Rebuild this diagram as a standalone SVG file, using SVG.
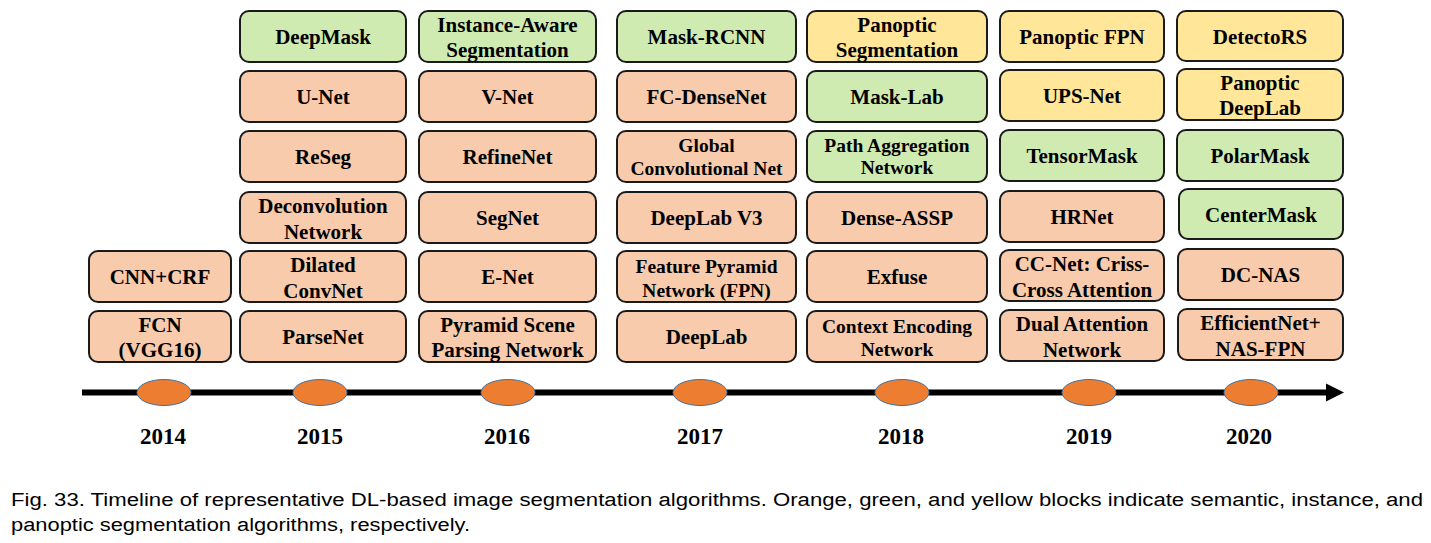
<svg xmlns="http://www.w3.org/2000/svg" width="1431" height="543" viewBox="0 0 1431 543">
<style>
.box{stroke:#1a1a1a;stroke-width:2}
.o{fill:#F8CBAD}.g{fill:#D0EBB1}.y{fill:#FFE699}
.t{font-family:"Liberation Serif","Times New Roman",serif;font-weight:bold;font-size:21px;fill:#000;text-anchor:middle}
.s{font-size:19.5px}
.yr{font-family:"Liberation Serif","Times New Roman",serif;font-weight:bold;font-size:23px;fill:#000;text-anchor:middle}
.dot{fill:#ED7D31;stroke:#41719C;stroke-width:1}
.cap{font-family:"Liberation Sans",Arial,sans-serif;font-size:18px;fill:#000}
</style>
<rect width="1431" height="543" fill="#fff"/>
<g id="connectors">
<line x1="82" y1="392.5" x2="1328" y2="392.5" stroke="#000" stroke-width="6"/>
<polygon points="1326,383.5 1344,392.5 1326,401.5" fill="#000"/>
</g>
<g id="years">
<ellipse class="dot" cx="164" cy="392.5" rx="27" ry="13"/>
<ellipse class="dot" cx="320" cy="392.5" rx="27" ry="13"/>
<ellipse class="dot" cx="508" cy="392.5" rx="27" ry="13"/>
<ellipse class="dot" cx="700" cy="392.5" rx="27" ry="13"/>
<ellipse class="dot" cx="902" cy="392.5" rx="27" ry="13"/>
<ellipse class="dot" cx="1089" cy="392.5" rx="27" ry="13"/>
<ellipse class="dot" cx="1251" cy="392.5" rx="27" ry="13"/>
<text class="yr" x="163" y="444">2014</text>
<text class="yr" x="320" y="444">2015</text>
<text class="yr" x="507" y="444">2016</text>
<text class="yr" x="700" y="444">2017</text>
<text class="yr" x="901" y="444">2018</text>
<text class="yr" x="1089" y="444">2019</text>
<text class="yr" x="1249" y="444">2020</text>
</g>
<!-- 2014 -->
<g id="cnn-crf"><rect class="box o" x="89" y="251" width="142" height="51" rx="9"/><text class="t" x="160" y="284">CNN+CRF</text></g>
<g id="fcn"><rect class="box o" x="89" y="311" width="142" height="51" rx="9"/><text class="t" x="160" y="331.5">FCN</text><text class="t" x="160" y="357">(VGG16)</text></g>
<!-- 2015 -->
<g id="deepmask"><rect class="box g" x="240" y="11" width="166" height="51" rx="9"/><text class="t" x="323" y="44">DeepMask</text></g>
<g id="unet"><rect class="box o" x="240" y="71" width="166" height="51" rx="9"/><text class="t" x="323" y="104">U-Net</text></g>
<g id="reseg"><rect class="box o" x="240" y="131" width="166" height="51" rx="9"/><text class="t" x="323" y="164">ReSeg</text></g>
<g id="deconv"><rect class="box o" x="240" y="192" width="166" height="51" rx="9"/><text class="t" x="323" y="212.5">Deconvolution</text><text class="t" x="323" y="239">Network</text></g>
<g id="dilated"><rect class="box o" x="240" y="251" width="166" height="51" rx="9"/><text class="t" x="323" y="271.5">Dilated</text><text class="t" x="323" y="297.5">ConvNet</text></g>
<g id="parsenet"><rect class="box o" x="240" y="311" width="166" height="51" rx="9"/><text class="t" x="323" y="344">ParseNet</text></g>
<!-- 2016 -->
<g id="instance-aware"><rect class="box g" x="419" y="11" width="177" height="51" rx="9"/><text class="t" x="507.5" y="32">Instance-Aware</text><text class="t" x="507.5" y="57">Segmentation</text></g>
<g id="vnet"><rect class="box o" x="419" y="71" width="177" height="51" rx="9"/><text class="t" x="507.5" y="104">V-Net</text></g>
<g id="refinenet"><rect class="box o" x="419" y="131" width="177" height="51" rx="9"/><text class="t" x="507.5" y="164">RefineNet</text></g>
<g id="segnet"><rect class="box o" x="419" y="192" width="177" height="51" rx="9"/><text class="t" x="507.5" y="225">SegNet</text></g>
<g id="enet"><rect class="box o" x="419" y="251" width="177" height="51" rx="9"/><text class="t" x="507.5" y="284">E-Net</text></g>
<g id="pspnet"><rect class="box o" x="419" y="311" width="177" height="51" rx="9"/><text class="t" x="507.5" y="331.5">Pyramid Scene</text><text class="t" x="507.5" y="357">Parsing Network</text></g>
<!-- 2017 -->
<g id="mask-rcnn"><rect class="box g" x="617" y="11" width="179" height="51" rx="9"/><text class="t" x="706.5" y="44">Mask-RCNN</text></g>
<g id="fc-densenet"><rect class="box o" x="617" y="71" width="179" height="51" rx="9"/><text class="t" x="706.5" y="104">FC-DenseNet</text></g>
<g id="gcn"><rect class="box o" x="617" y="131" width="179" height="51" rx="9"/><text class="t s" x="706.5" y="151.5">Global</text><text class="t s" x="706.5" y="175">Convolutional Net</text></g>
<g id="deeplab-v3"><rect class="box o" x="617" y="192" width="179" height="51" rx="9"/><text class="t" x="706.5" y="225">DeepLab V3</text></g>
<g id="fpn"><rect class="box o" x="617" y="251" width="179" height="51" rx="9"/><text class="t s" x="706.5" y="272.5">Feature Pyramid</text><text class="t s" x="706.5" y="296.5">Network (FPN)</text></g>
<g id="deeplab"><rect class="box o" x="617" y="311" width="179" height="51" rx="9"/><text class="t" x="706.5" y="344">DeepLab</text></g>
<!-- 2018 -->
<g id="panoptic-seg"><rect class="box y" x="807" y="11" width="180" height="51" rx="9"/><text class="t" x="897" y="32">Panoptic</text><text class="t" x="897" y="57">Segmentation</text></g>
<g id="mask-lab"><rect class="box g" x="807" y="71" width="180" height="51" rx="9"/><text class="t" x="897" y="104">Mask-Lab</text></g>
<g id="panet"><rect class="box g" x="807" y="131" width="180" height="51" rx="9"/><text class="t s" x="897" y="151.5">Path Aggregation</text><text class="t s" x="897" y="174">Network</text></g>
<g id="dense-assp"><rect class="box o" x="807" y="192" width="180" height="51" rx="9"/><text class="t" x="897" y="225">Dense-ASSP</text></g>
<g id="exfuse"><rect class="box o" x="807" y="251" width="180" height="51" rx="9"/><text class="t" x="897" y="284">Exfuse</text></g>
<g id="encnet"><rect class="box o" x="807" y="311" width="180" height="51" rx="9"/><text class="t s" x="897" y="332.5">Context Encoding</text><text class="t s" x="897" y="355.5">Network</text></g>
<!-- 2019 -->
<g id="panoptic-fpn"><rect class="box y" x="1000" y="11" width="164" height="51" rx="9"/><text class="t" x="1082" y="44">Panoptic FPN</text></g>
<g id="ups-net"><rect class="box y" x="1000" y="70" width="164" height="51" rx="9"/><text class="t" x="1082" y="103">UPS-Net</text></g>
<g id="tensormask"><rect class="box g" x="1000" y="130" width="164" height="51" rx="9"/><text class="t" x="1082" y="163">TensorMask</text></g>
<g id="hrnet"><rect class="box o" x="1000" y="191" width="164" height="51" rx="9"/><text class="t" x="1082" y="224">HRNet</text></g>
<g id="ccnet"><rect class="box o" x="1000" y="250" width="164" height="51" rx="9"/><text class="t" x="1082" y="270.5">CC-Net: Criss-</text><text class="t" x="1082" y="296.5">Cross Attention</text></g>
<g id="danet"><rect class="box o" x="1000" y="310" width="164" height="51" rx="9"/><text class="t" x="1082" y="330.5">Dual Attention</text><text class="t" x="1082" y="356.5">Network</text></g>
<!-- 2020 -->
<g id="detectors"><rect class="box y" x="1177" y="11" width="166" height="50" rx="9"/><text class="t" x="1260" y="44">DetectoRS</text></g>
<g id="panoptic-deeplab"><rect class="box y" x="1177" y="69" width="166" height="51" rx="9"/><text class="t" x="1260" y="89.5">Panoptic</text><text class="t" x="1260" y="115">DeepLab</text></g>
<g id="polarmask"><rect class="box g" x="1177" y="130" width="166" height="51" rx="9"/><text class="t" x="1260" y="163">PolarMask</text></g>
<g id="centermask"><rect class="box g" x="1179" y="189" width="164" height="50" rx="9"/><text class="t" x="1261" y="221.5">CenterMask</text></g>
<g id="dc-nas"><rect class="box o" x="1178" y="249" width="165" height="51" rx="9"/><text class="t" x="1260.5" y="282">DC-NAS</text></g>
<g id="efficientnet"><rect class="box o" x="1178" y="309" width="165" height="51" rx="9"/><text class="t" x="1260.5" y="329.5">EfficientNet+</text><text class="t" x="1260.5" y="355.5">NAS-FPN</text></g>
<g id="caption">
<text class="cap" x="11" y="506" textLength="1412" lengthAdjust="spacingAndGlyphs">Fig. 33. Timeline of representative DL-based image segmentation algorithms. Orange, green, and yellow blocks indicate semantic, instance, and</text>
<text class="cap" x="11" y="531" textLength="459" lengthAdjust="spacingAndGlyphs">panoptic segmentation algorithms, respectively.</text>
</g>
</svg>
